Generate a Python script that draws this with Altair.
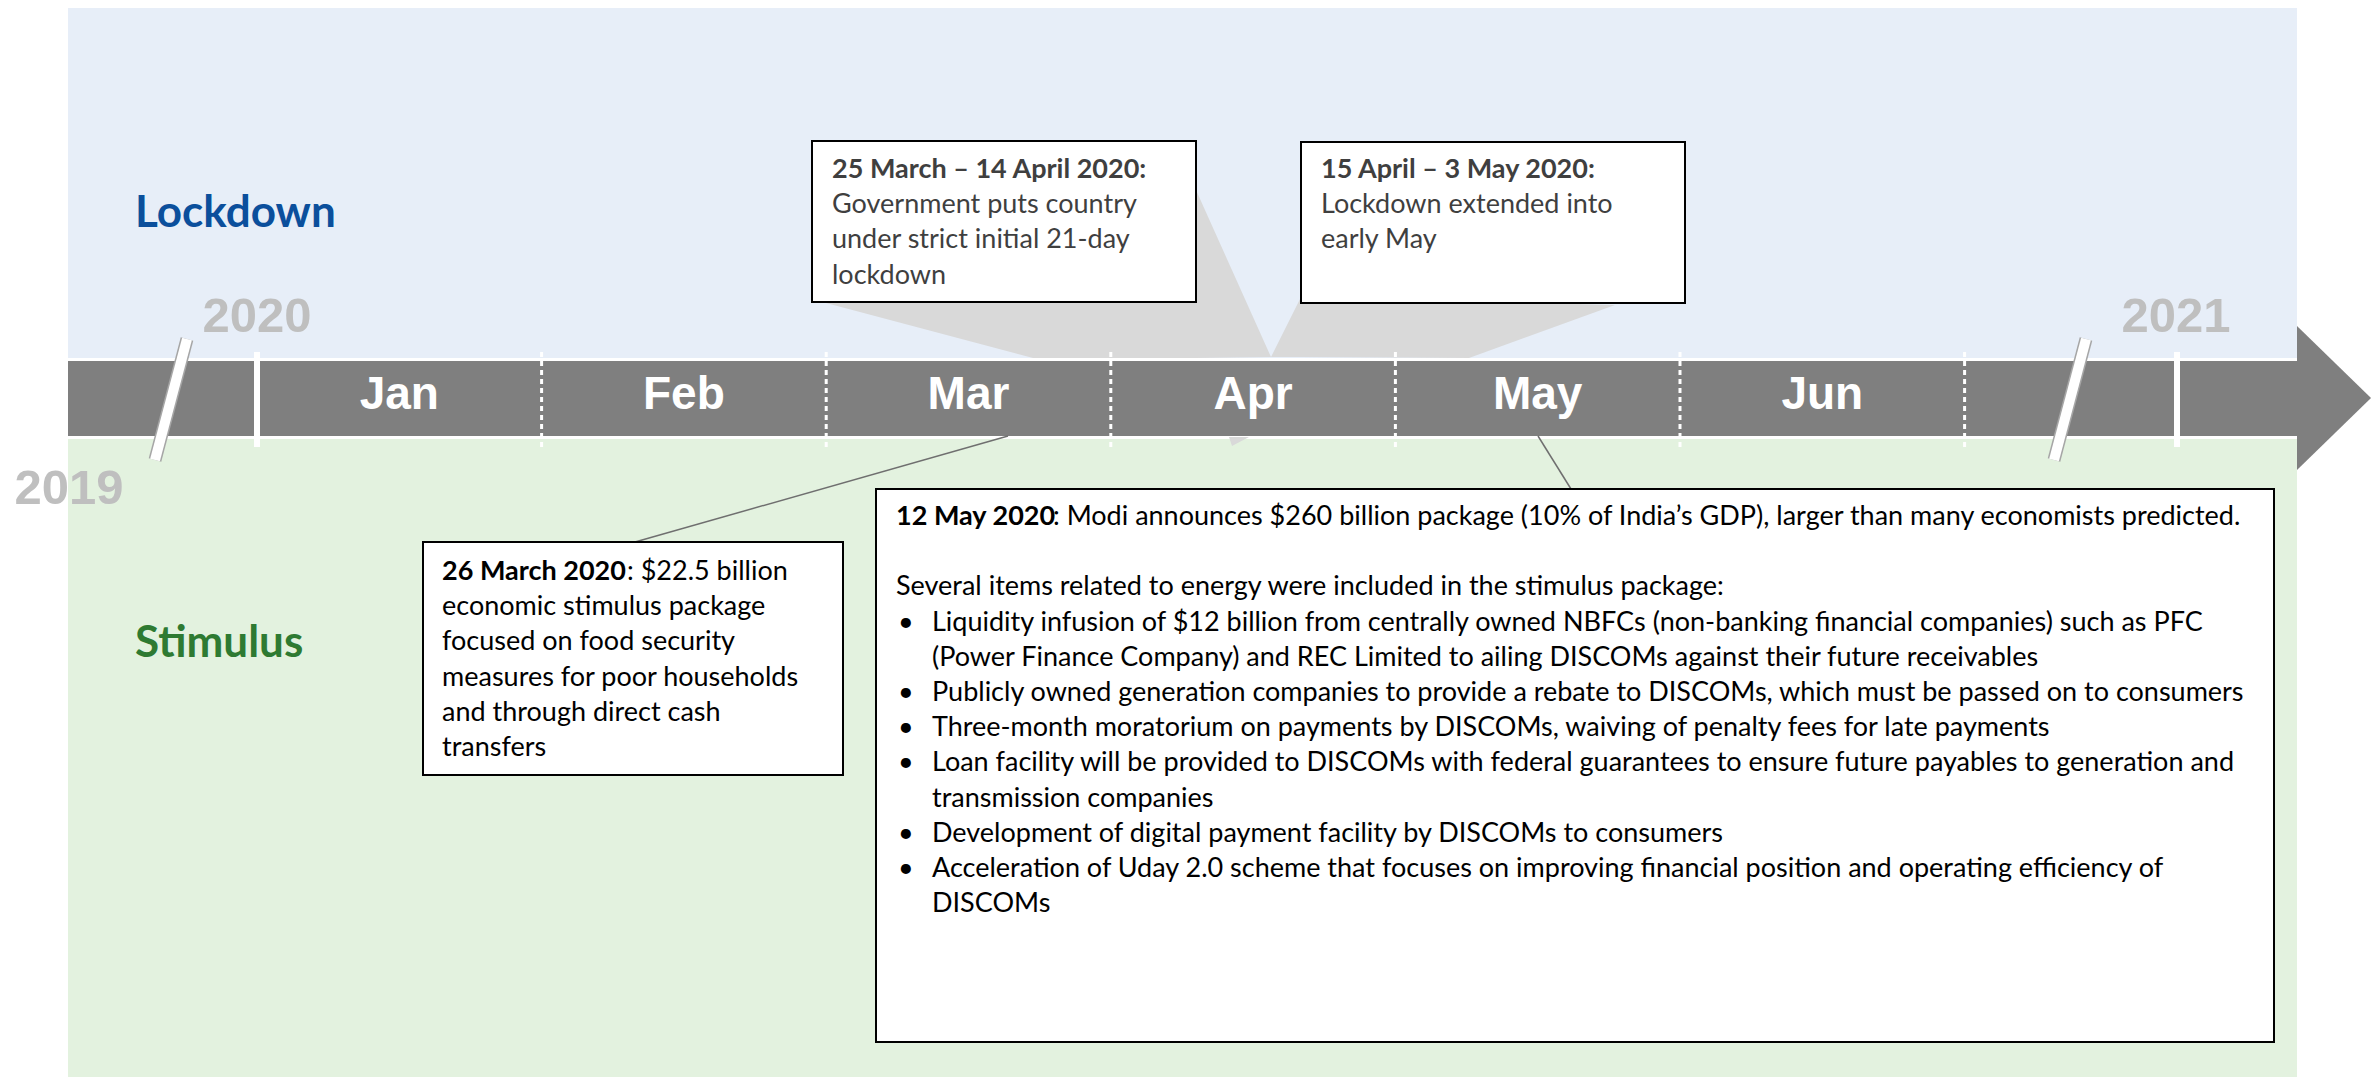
import altair as alt
import pandas as pd

# ------------------------------------------------------------------ data
months = ["Jan", "Feb", "Mar", "Apr", "May", "Jun"]
year_labels = ["2019", "2020", "2021"]
section_labels = ["Lockdown", "Stimulus"]
section_colors = ["#0b4f9c", "#2e7a32"]

box1_title = "25 March – 14 April 2020:"
box1_lines = ["Government puts country", "under strict initial 21-day", "lockdown"]
box2_title = "15 April – 3 May 2020:"
box2_lines = ["Lockdown extended into", "early May"]
box4_title = "26 March 2020"
box4_first = ": $22.5 billion"
box4_lines = ["economic stimulus package", "focused on food security",
              "measures for poor households", "and through direct cash", "transfers"]
box3_title = "12 May 2020"
box3_first = (": Modi announces $260 billion package (10% of India’s GDP), "
              "larger than many economists predicted.")
box3_intro = "Several items related to energy were included in the stimulus package:"
box3_bullets = [
    ["Liquidity infusion of $12 billion from centrally owned NBFCs (non-banking financial companies) such as PFC",
     "(Power Finance Company) and REC Limited to ailing DISCOMs against their future receivables"],
    ["Publicly owned generation companies to provide a rebate to DISCOMs, which must be passed on to consumers"],
    ["Three-month moratorium on payments by DISCOMs, waiving of penalty fees for late payments"],
    ["Loan facility will be provided to DISCOMs with federal guarantees to ensure future payables to generation and",
     "transmission companies"],
    ["Development of digital payment facility by DISCOMs to consumers"],
    ["Acceleration of Uday 2.0 scheme that focuses on improving financial position and operating efficiency of",
     "DISCOMs"],
]

# ------------------------------------------------------------------ layout
W, H = 2364, 1069
MPX = 284.6          # pixels per month on the timeline
JAN0 = 257           # page x of 1 Jan 2020


def X(p):
    return (p - JAN0) / MPX


xs = alt.Scale(domain=[X(8), X(8 + W)], nice=False, zero=False)
ys = alt.Scale(domain=[8, 8 + H], nice=False, zero=False, reverse=True)

BAND_L, BAND_R = X(68), X(2297)
BAR_TOP, BAR_BOT = 361, 436
LH = 35.2
FONT = "Lato"
FS = 27


def ex():
    return alt.X("x:Q", scale=xs, axis=None)


def ey():
    return alt.Y("y:Q", scale=ys, axis=None)


def rects(df, **kw):
    return alt.Chart(df).mark_rect(**kw).encode(
        x=ex(), x2="x2:Q", y=ey(), y2="y2:Q")


def rules(df, **kw):
    return alt.Chart(df).mark_rule(**kw).encode(
        x=ex(), x2="x2:Q", y=ey(), y2="y2:Q")


def texts(df, **kw):
    return alt.Chart(df).mark_text(**kw).encode(x=ex(), y=ey(), text="t:N")


layers = []

# background bands
bands = pd.DataFrame({"x": [BAND_L, BAND_L], "x2": [BAND_R, BAND_R],
                      "y": [8, 439], "y2": [358, 8 + H],
                      "c": ["#e7eef8", "#e3f2df"]})
layers.append(alt.Chart(bands).mark_rect().encode(
    x=ex(), x2="x2:Q", y=ey(), y2="y2:Q", color=alt.Color("c:N", scale=None)))

# callout wedges (behind the lockdown boxes)
poly = pd.DataFrame({
    "p": ["a"] * 4 + ["b"] * 4 + ["c"] * 3,
    "x": [X(826), X(1033), X(1196), X(1271), X(1271), X(1301), X(1469), X(1615),
          X(1229), X(1232), X(1249)],
    "y": [303, 240, 190, 357, 357, 297, 301, 305, 437, 437, 437],
    "y2": [303, 358, 358, 357, 357, 357, 358, 305, 437, 446, 437],
})
layers.append(alt.Chart(poly).mark_area(color="#d9d9d9", interpolate="linear").encode(
    x=ex(), y=ey(), y2="y2:Q", detail="p:N"))

# timeline bar + arrow head
bar = pd.DataFrame({"x": [BAND_L], "x2": [X(2300)], "y": [BAR_TOP], "y2": [BAR_BOT]})
layers.append(rects(bar, color="#7f7f7f"))
head = pd.DataFrame({"x": [X(2297), X(8 + W - 1)], "y": [326, 398], "y2": [470, 398]})
layers.append(alt.Chart(head).mark_area(color="#7f7f7f", interpolate="linear").encode(
    x=ex(), y=ey(), y2="y2:Q"))

# month separators
dotted = pd.DataFrame({"x": list(range(1, 7)), "x2": list(range(1, 7)),
                       "y": [352] * 6, "y2": [447] * 6})
layers.append(rules(dotted, color="white", strokeWidth=3, strokeDash=[5, 4]))
solid = pd.DataFrame({"x": [0, X(2177)], "x2": [0, X(2177)], "y": [352, 352], "y2": [447, 447]})
layers.append(rules(solid, color="white", strokeWidth=6))

# break slashes
slash = pd.DataFrame({"x": [X(187), X(2086)], "x2": [X(155), X(2054)],
                      "y": [339, 339], "y2": [460, 460]})
layers.append(rules(slash, color="#a6a6a6", strokeWidth=13))
layers.append(rules(slash, color="white", strokeWidth=10))

# month labels
mdf = pd.DataFrame({"x": [i + 0.5 for i in range(len(months))], "y": [395] * len(months), "t": months})
layers.append(texts(mdf, font="Liberation Sans", fontWeight="bold", fontSize=46,
                    color="white", align="center", baseline="middle"))

# year labels
ydf = pd.DataFrame({"x": [X(69), 0, X(2176)], "y": [504, 332, 332], "t": year_labels})
layers.append(texts(ydf, font="Liberation Sans", fontWeight="bold", fontSize=49,
                    color="#bfbfbf", align="center", baseline="alphabetic"))

# section labels
for lab, col, yy in zip(section_labels, section_colors, [214, 644]):
    sdf = pd.DataFrame({"x": [X(135)], "y": [yy], "t": [lab]})
    layers.append(texts(sdf, font=FONT, fontWeight="bold", fontSize=44,
                        color=col, align="left", baseline="middle"))

# connectors from stimulus boxes to the timeline
conn = pd.DataFrame({"x": [X(635), X(1571)], "x2": [X(1008), X(1538)],
                     "y": [542, 489], "y2": [436, 436]})
layers.append(rules(conn, color="#6f6f6f", strokeWidth=1.5))

# boxes
boxes = pd.DataFrame({
    "x": [X(812), X(1301), X(876), X(423)],
    "x2": [X(1196), X(1685), X(2274), X(843)],
    "y": [141, 142, 489, 542],
    "y2": [302, 303, 1042, 775],
})
layers.append(rects(boxes, fill="white", stroke="black", strokeWidth=2))


def text_layer(rows, weight, color):
    df = pd.DataFrame(rows, columns=["x", "y", "t"])
    return texts(df, font=FONT, fontWeight=weight, fontSize=FS, color=color,
                 align="left", baseline="middle")


# box 1 & 2 (lockdown)
b_rows, r_rows = [], []
b_rows.append((X(832), 170, box1_title))
for i, ln in enumerate(box1_lines):
    r_rows.append((X(832), 170 + LH * (i + 1), ln))
b_rows.append((X(1321), 170, box2_title))
for i, ln in enumerate(box2_lines):
    r_rows.append((X(1321), 170 + LH * (i + 1), ln))
layers.append(text_layer(b_rows, "bold", "#3f3f3f"))
layers.append(text_layer(r_rows, "normal", "#3f3f3f"))

# box 4 (26 March)
b_rows, r_rows = [], []
b_rows.append((X(442), 572, box4_title))
r_rows.append((X(442 + 185), 572, box4_first))
for i, ln in enumerate(box4_lines):
    r_rows.append((X(442), 572 + LH * (i + 1), ln))

# box 3 (12 May)
b_rows.append((X(896), 517, box3_title))
r_rows.append((X(896 + 157), 517, box3_first))
r_rows.append((X(896), 517 + LH * 2, box3_intro))
k = 3
bul_rows = []
for item in box3_bullets:
    bul_rows.append((X(898), 517 + LH * k, "•"))
    for ln in item:
        r_rows.append((X(932), 517 + LH * k, ln))
        k += 1
layers.append(text_layer(b_rows, "bold", "black"))
layers.append(text_layer(r_rows, "normal", "black"))
layers.append(text_layer(bul_rows, "normal", "black"))

chart = alt.layer(*layers).properties(width=W, height=H, padding=0).configure_view(
    strokeWidth=0)

chart.save("out.html", embed_options={"renderer": "svg", "actions": False})
